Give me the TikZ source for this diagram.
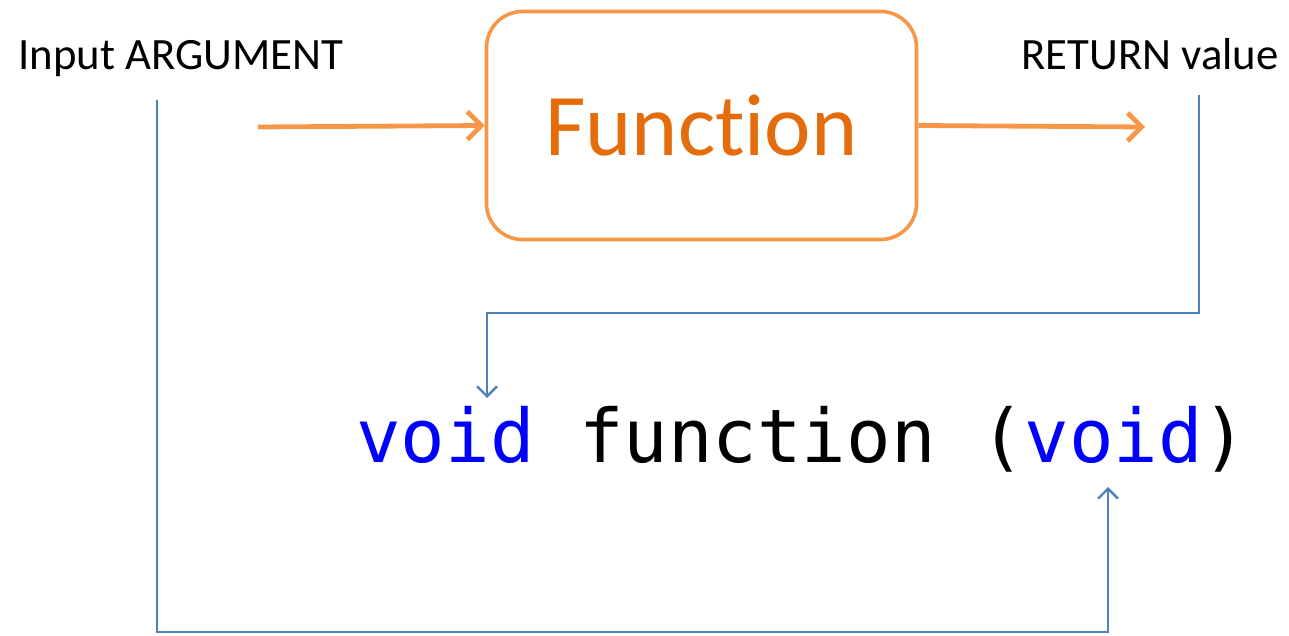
\documentclass[tikz,border=0pt]{standalone}
\usepackage{fontspec}
\setmainfont[Ligatures=NoCommon]{Carlito}
\newfontfamily\codefont{DejaVu Sans Mono}
\usetikzlibrary{arrows.meta}
\definecolor{boxorange}{HTML}{F79646}
\definecolor{textorange}{HTML}{E46C0A}
\definecolor{lineblue}{HTML}{4F81BD}
\begin{document}
\begin{tikzpicture}[x=0.5pt,y=-0.5pt,every node/.style={inner sep=0pt},
				label/.style={font=\fontsize{22.4}{27}\selectfont},
				flow/.style={draw=boxorange,line width=2.4pt,-{Straight Barb[length=7pt,width=14pt]}},
				link/.style={draw=lineblue,line width=1.2pt,-{Straight Barb[length=5pt,width=10pt]}}]
\useasboundingbox (0,0) rectangle (1289,636);
\node[draw=boxorange,line width=1.8pt,rounded corners=18pt,
	minimum width=215pt,minimum height=114pt,text=textorange,
	font=\fontsize{44}{52}\selectfont] (func) at (701.5,125.5) {Function};
\node[label,anchor=base west] (arg) at (18,70) {Input ARGUMENT};
\node[label,anchor=base east] (ret) at (1279,70) {RETURN value};
\node[anchor=base west,font=\codefont\fontsize{37}{44}\selectfont] (code) at (356,462)
	{\textcolor{blue}{void} function (\textcolor{blue}{void})};
% free ends
\coordinate (in) at (258,127);
\coordinate (out) at (1145,127);
\coordinate (argdrop) at (157,100);
\coordinate (retdrop) at (1199,95);
\coordinate (rettip) at (487,398);
\coordinate (argtip) at (1108,487);
\draw[flow] (in) -- (func.west);
\draw[flow] (func.east) -- (out);
\draw[link] (retdrop) -- ++(0,218) -| (rettip);
\draw[link] (argdrop) -- ++(0,532) -| (argtip);
\end{tikzpicture}
\end{document}
